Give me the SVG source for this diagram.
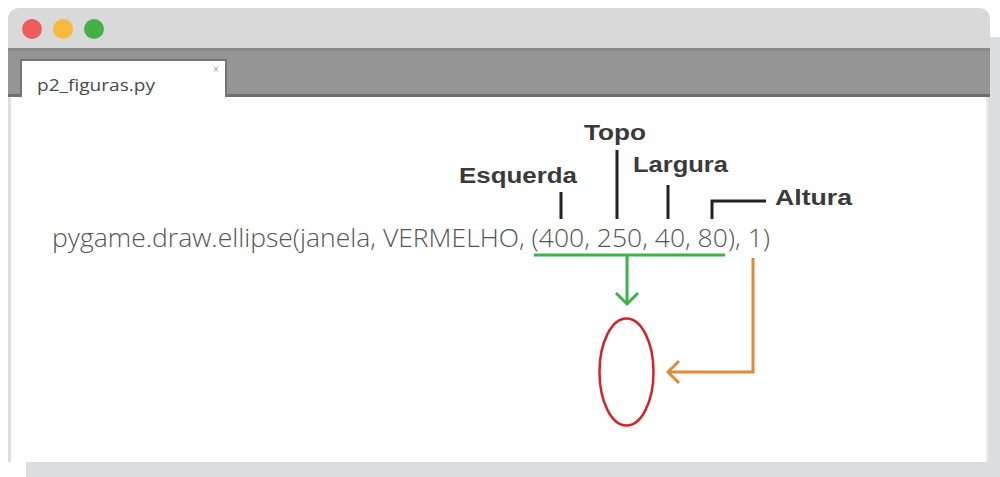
<svg xmlns="http://www.w3.org/2000/svg" width="1000" height="477" viewBox="0 0 1000 477">
<defs>
<style>
.code{font-family:"Open Sans","Liberation Sans",sans-serif;font-weight:300;font-size:25.5px;fill:#555}
.lbl{font-family:"Liberation Sans","DejaVu Sans",sans-serif;font-weight:bold;font-size:22px;fill:#3a3a3a}
.tick{stroke:#222;stroke-width:3;fill:none}
.green{stroke:#3db24b;stroke-width:3;fill:none}
.orange{stroke:#e08a35;stroke-width:3;fill:none}
</style>
</defs>
<rect width="1000" height="477" fill="#fff"/>
<g id="window">
<rect x="988" y="37" width="12" height="440" fill="#dcdddf"/>
<rect x="26" y="462" width="974" height="15" fill="#dcdddf"/>
<path d="M8 48 V20 Q8 8 20 8 H978 Q990 8 990 20 V48 Z" fill="#d9d9d9"/>
<rect x="8" y="48" width="982" height="49" fill="#959595"/>
<rect x="8" y="48" width="982" height="3" fill="#8a8a8a"/>
<rect x="8" y="94" width="982" height="3" fill="#6e6e6e"/>
<rect x="8" y="97" width="980" height="365" fill="#fff"/>
<rect x="8" y="97" width="3" height="365" fill="#dedede"/>
<rect x="986" y="97" width="2" height="365" fill="#ececec"/>
<path d="M21 97 V60 H226 V97" fill="#fff" stroke="#757575" stroke-width="2"/>
<rect x="22" y="61" width="203" height="37" fill="#fff"/>
<circle cx="32" cy="29" r="10" fill="#ec5d5b"/>
<circle cx="63" cy="29" r="10" fill="#f6b93b"/>
<circle cx="94" cy="29" r="10" fill="#45b048"/>
<text x="37" y="91" font-family="'Open Sans','Liberation Sans',sans-serif" font-size="17" fill="#4a4a4a" textLength="118" lengthAdjust="spacingAndGlyphs">p2_figuras.py</text>
<text x="216" y="73" font-family="'Liberation Sans',sans-serif" font-size="10" fill="#9a9a9a" text-anchor="middle">×</text>
</g>
<g id="code">
<text class="code" x="52" y="247" textLength="718" lengthAdjust="spacingAndGlyphs">pygame.draw.ellipse(janela, VERMELHO, (400, 250, 40, 80), 1)</text>
</g>
<g id="label-esquerda"><text class="lbl" x="459" y="183" textLength="118" lengthAdjust="spacingAndGlyphs">Esquerda</text></g>
<g id="label-topo"><text class="lbl" x="584" y="140" textLength="62" lengthAdjust="spacingAndGlyphs">Topo</text></g>
<g id="label-largura"><text class="lbl" x="633" y="172" textLength="95" lengthAdjust="spacingAndGlyphs">Largura</text></g>
<g id="label-altura"><text class="lbl" x="775" y="205" textLength="77" lengthAdjust="spacingAndGlyphs">Altura</text></g>
<g id="ellipse-shape"><ellipse cx="626.5" cy="372" rx="27" ry="53.5" fill="none" stroke="#d62128" stroke-width="2.5"/></g>
<g id="connectors">
<path class="tick" d="M561 192 V219"/>
<path class="tick" d="M617 150 V219"/>
<path class="tick" d="M668 185 V219"/>
<path class="tick" d="M712 219 V201 H766"/>
<path class="green" d="M534 255 H725 M627 255 V304"/>
<path class="green" d="M616 293 L627 304 L638 293"/>
<path class="orange" d="M753 258 V372 H668"/>
<path class="orange" d="M679 361 L668 372 L679 383"/>
</g>
</svg>
